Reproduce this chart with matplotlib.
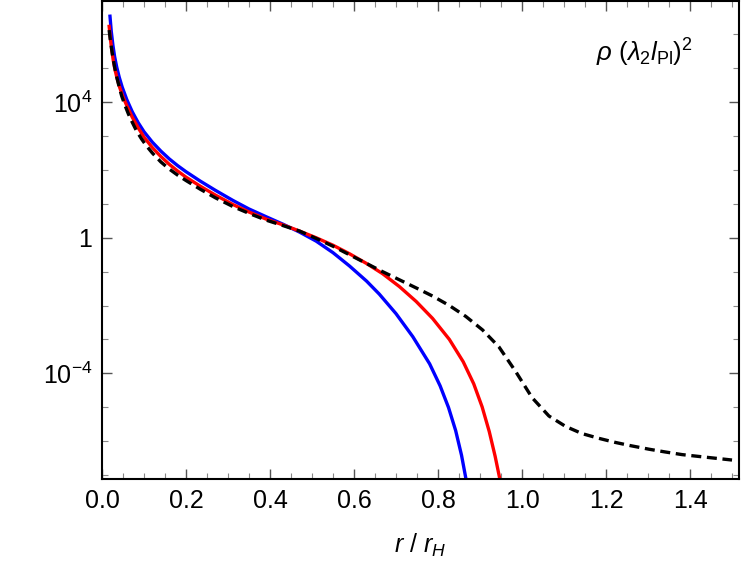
import numpy as np
import matplotlib
matplotlib.use("Agg")
import matplotlib.pyplot as plt
from matplotlib.ticker import FixedLocator, MultipleLocator, NullFormatter

plt.rcParams['font.family'] = ['Liberation Sans', 'DejaVu Sans']
plt.rcParams['mathtext.fontset'] = 'custom'
plt.rcParams['mathtext.rm'] = 'Liberation Sans'
plt.rcParams['mathtext.it'] = 'Liberation Sans:italic'

# values, y given as log10(rho)
blue_x = [0.019, 0.022, 0.026, 0.030, 0.035, 0.041, 0.048, 0.059, 0.072, 0.086,
          0.100, 0.120, 0.140, 0.160, 0.180, 0.200, 0.233, 0.270, 0.312, 0.350,
          0.391, 0.431, 0.470, 0.510, 0.550, 0.589, 0.630, 0.660, 0.700, 0.740,
          0.780, 0.805, 0.825, 0.842, 0.856, 0.867, 0.875]
blue_logy = [6.54, 6.10, 5.68, 5.35, 5.04, 4.74, 4.45, 4.08, 3.72, 3.40,
             3.13, 2.82, 2.56, 2.33, 2.13, 1.95, 1.68, 1.40, 1.10, 0.85,
             0.62, 0.40, 0.17, -0.10, -0.44, -0.83, -1.28, -1.66, -2.24, -2.92,
             -3.72, -4.37, -5.01, -5.69, -6.42, -7.15, -7.79]

red_x = [0.017, 0.020, 0.023, 0.027, 0.031, 0.036, 0.042, 0.050, 0.059, 0.072,
         0.086, 0.100, 0.120, 0.140, 0.160, 0.180, 0.200, 0.233, 0.270, 0.312,
         0.350, 0.391, 0.431, 0.470, 0.510, 0.550, 0.589, 0.630, 0.668, 0.708,
         0.748, 0.787, 0.827, 0.860, 0.885, 0.905, 0.922, 0.936, 0.949, 0.956]
red_logy = [6.24, 5.88, 5.56, 5.22, 4.96, 4.70, 4.44, 4.16, 3.90, 3.56,
            3.25, 2.97, 2.66, 2.40, 2.17, 1.97, 1.79, 1.53, 1.26, 0.98,
            0.76, 0.55, 0.38, 0.20, 0.00, -0.22, -0.47, -0.76, -1.06, -1.44,
            -1.88, -2.38, -3.00, -3.66, -4.31, -4.99, -5.72, -6.45, -7.23, -7.70]

black_x = [0.017, 0.020, 0.025, 0.030, 0.035, 0.041, 0.047, 0.055, 0.063, 0.072,
           0.082, 0.094, 0.106, 0.120, 0.140, 0.160, 0.180, 0.200, 0.233, 0.270,
           0.312, 0.352, 0.391, 0.431, 0.470, 0.510, 0.550, 0.589, 0.630, 0.668,
           0.708, 0.748, 0.787, 0.827, 0.866, 0.906, 0.945, 0.985, 1.024, 1.064,
           1.104, 1.143, 1.183, 1.222, 1.260, 1.302, 1.340, 1.381, 1.440, 1.500]
black_logy = [6.13, 5.82, 5.40, 5.04, 4.75, 4.45, 4.18, 3.90, 3.65, 3.41,
              3.16, 2.92, 2.71, 2.50, 2.24, 2.03, 1.85, 1.69, 1.44, 1.18,
              0.92, 0.71, 0.52, 0.36, 0.20, -0.02, -0.25, -0.50, -0.76, -1.00,
              -1.24, -1.48, -1.72, -2.00, -2.32, -2.72, -3.22, -3.95, -4.72, -5.26,
              -5.57, -5.78, -5.92, -6.04, -6.14, -6.24, -6.32, -6.40, -6.48, -6.56]

fig = plt.figure(figsize=(7.5, 5.63), dpi=100)
ax = fig.add_axes([0.136, 0.1492, 0.849, 0.8485])

ax.semilogy(blue_x, 10 ** np.array(blue_logy), color='#0000ff', lw=2.4)
ax.semilogy(red_x, 10 ** np.array(red_logy), color='#ff0000', lw=2.4)
ax.semilogy(black_x, 10 ** np.array(black_logy), color='black', lw=2.4,
            linestyle=(0, (3.0, 1.7)))

ax.set_xlim(0, 1.516)
ax.set_ylim(10 ** -7.12, 10 ** 6.98)

ax.xaxis.set_major_locator(MultipleLocator(0.2))
ax.xaxis.set_minor_locator(MultipleLocator(0.05))
ax.xaxis.set_major_formatter(matplotlib.ticker.FormatStrFormatter('%.1f'))

ax.yaxis.set_major_locator(FixedLocator([1e-4, 1, 1e4]))
ax.set_yticklabels([r'$10^{-4}$', '1', r'$10^{4}$'])
ax.yaxis.set_minor_locator(FixedLocator([10.0 ** k for k in range(-7, 8)]))
ax.yaxis.set_minor_formatter(NullFormatter())

ax.tick_params(which='both', direction='in', top=True, right=True, labelsize=18, pad=7)
ax.tick_params(which='major', length=7, width=1.0, color='#555555')
ax.tick_params(which='minor', length=4, width=0.8, color='#888888')
for s in ax.spines.values():
    s.set_linewidth(1.5)

ax.set_xlabel(r'$r\ /\ r_H$', fontsize=18, labelpad=14)
ax.text(0.852, 0.893, r'$\rho\ (\lambda_2 l_{\mathrm{Pl}})^2$', transform=ax.transAxes,
        fontsize=18.5, ha='center', va='center')

fig.savefig('out.png', dpi=100)
